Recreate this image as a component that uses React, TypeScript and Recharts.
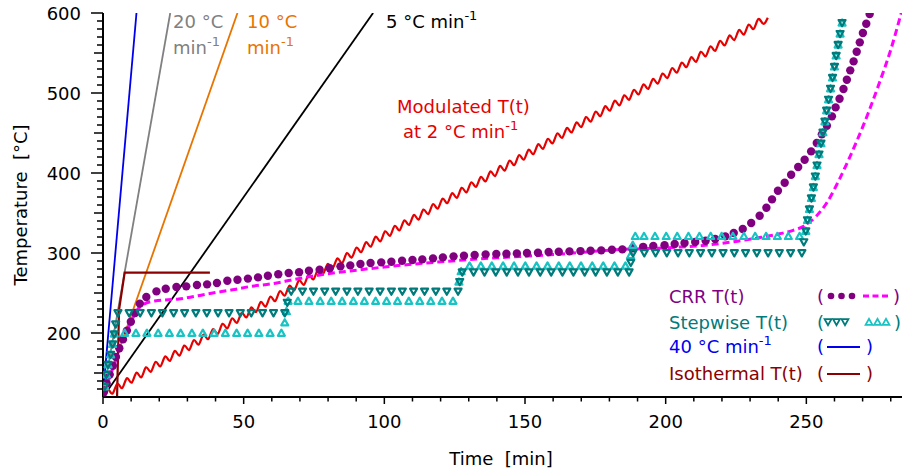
import React from "react";
import { ComposedChart, Line, Scatter, XAxis, YAxis } from "recharts";

type P = [number, number];

// heating ramps (t in min, T in °C)
const RAMP_40: P[] = [[0, 124], [11.9, 600]];
const RAMP_20: P[] = [[0, 122], [23.9, 600]];
const RAMP_10: P[] = [[0, 122], [47.8, 600]];
const RAMP_5: P[] = [[0, 120], [96, 600]];
const ISOTHERMAL: P[] = [[5.0, 120], [5.7, 229], [7.7, 275.5], [38, 275.5]];

// modulated T(t), peaks and troughs
const MODULATED: P[] = [
  [0, 117.5], [1.7, 129.9], [3.4, 124.3], [5.1, 136.7], [6.8, 131.1], [8.5, 143.5], [10.2, 137.9], [11.9, 150.3],
  [13.6, 144.7], [15.3, 157.1], [17, 151.5], [18.7, 163.9], [20.4, 158.3], [22.1, 170.7], [23.8, 165.1], [25.5, 177.5],
  [27.2, 171.9], [28.9, 184.3], [30.6, 178.7], [32.3, 191.1], [34, 185.5], [35.7, 197.9], [37.4, 192.3], [39.1, 204.7],
  [40.8, 199.1], [42.5, 211.5], [44.2, 205.9], [45.9, 218.3], [47.6, 212.7], [49.3, 225.1], [51, 219.5], [52.7, 231.9],
  [54.4, 226.3], [56.1, 238.7], [57.8, 233.1], [59.5, 245.5], [61.2, 239.9], [62.9, 252.3], [64.6, 246.7], [66.3, 259.1],
  [68, 253.5], [69.7, 265.9], [71.4, 260.3], [73.1, 272.7], [74.8, 267.1], [76.5, 279.5], [78.2, 273.9], [79.9, 286.3],
  [81.6, 280.7], [83.3, 293.1], [85, 287.5], [86.7, 299.9], [88.4, 294.3], [90.1, 306.7], [91.8, 301.1], [93.5, 313.5],
  [95.2, 307.9], [96.9, 320.3], [98.6, 314.7], [100.3, 327.1], [102, 321.5], [103.7, 333.9], [105.4, 328.3], [107.1, 340.7],
  [108.8, 335.1], [110.5, 347.5], [112.2, 341.9], [113.9, 354.3], [115.6, 348.7], [117.3, 361.1], [119, 355.5], [120.7, 367.9],
  [122.4, 362.3], [124.1, 374.7], [125.8, 369.1], [127.5, 381.5], [129.2, 375.9], [130.9, 388.3], [132.6, 382.7], [134.3, 395.1],
  [136, 389.5], [137.7, 401.9], [139.4, 396.3], [141.1, 408.7], [142.8, 403.1], [144.5, 415.5], [146.2, 409.9], [147.9, 422.3],
  [149.6, 416.7], [151.3, 429.1], [153, 423.5], [154.7, 435.9], [156.4, 430.3], [158.1, 442.7], [159.8, 437.1], [161.5, 449.5],
  [163.2, 443.9], [164.9, 456.3], [166.6, 450.7], [168.3, 463.1], [170, 457.5], [171.7, 469.9], [173.4, 464.3], [175.1, 476.7],
  [176.8, 471.1], [178.5, 483.5], [180.2, 477.9], [181.9, 490.3], [183.6, 484.7], [185.3, 497.1], [187, 491.5], [188.7, 503.9],
  [190.4, 498.3], [192.1, 510.7], [193.8, 505.1], [195.5, 517.5], [197.2, 511.9], [198.9, 524.3], [200.6, 518.7], [202.3, 531.1],
  [204, 525.5], [205.7, 537.9], [207.4, 532.3], [209.1, 544.7], [210.8, 539.1], [212.5, 551.5], [214.2, 545.9], [215.9, 558.3],
  [217.6, 552.7], [219.3, 565.1], [221, 559.5], [222.7, 571.9], [224.4, 566.3], [226.1, 578.7], [227.8, 573.1], [229.5, 585.5],
  [231.2, 579.9], [232.9, 592.3], [234.6, 586.7], [236.3, 594],
];

// CRR T(t) measured points
const CRR_DOTS: P[] = [
  [0.3, 126], [1.3, 137], [2.4, 148], [3.5, 159], [4.6, 170], [5.8, 181], [7.1, 192], [8.5, 203], [9.9, 214], [11.4, 225],
  [13.1, 236.7], [15.4, 245], [19, 252], [22.3, 255.4], [26.1, 257.5], [29.6, 258.3], [33.4, 260], [37, 260.8], [40.5, 262.5],
  [44.2, 265.4], [47.8, 266.6], [51.5, 268], [55.1, 269.5], [58.6, 271.6], [62.3, 273.5], [66, 275], [69.7, 276], [73.2, 277.8],
  [77, 279], [80.6, 281], [84.4, 283.3], [87.9, 284.5], [91.5, 286.2], [95.1, 287.5], [98.9, 288.3], [102.5, 289.1],
  [106.3, 290.4], [110, 291.2], [113.5, 292], [117.3, 293.3], [120.8, 294.5], [124.6, 295.8], [128.3, 296.6], [132.1, 297.5],
  [136, 298.3], [139.8, 298.8], [143.4, 299], [147.1, 299.5], [150.7, 300], [154.6, 300.4], [158.4, 301.2], [162, 301.6],
  [165.8, 302], [169.7, 302.4], [173.3, 302.9], [177.1, 303.3], [180.9, 304], [184.6, 304.5], [188.3, 306], [192, 307.7],
  [195.6, 308.7], [199.6, 309.6], [203.2, 311.2], [206.7, 312.5], [210.5, 313.7], [214.2, 315.4], [217.6, 317.5],
  [221.2, 320.8], [224.2, 325], [227.4, 330], [230.4, 337.5], [233.4, 346.6], [235.8, 356.5], [237.8, 367], [239.9, 377.9],
  [242.3, 387.9], [244.6, 397.9], [247.1, 407.5], [249.4, 416.6], [251.7, 427], [253.7, 437.5], [255.5, 448.3], [257.3, 459],
  [259.1, 470.8], [260.4, 482], [261.8, 492.9], [263.2, 505], [264.4, 516.6], [265.6, 528.3], [266.8, 539.5], [267.9, 551.6],
  [269, 563.3], [270.1, 575], [271.3, 586.6], [272.5, 598.8],
];

// CRR T(t) model curve (dashed)
const CRR_CURVE: P[] = [
  [0.3, 124], [2, 141], [4, 161], [6, 180], [8, 198], [10, 214], [12, 228], [14.5, 236], [18.4, 240], [27, 242.5],
  [39, 250], [46, 254], [53, 258.5], [60, 261.5], [67.5, 266.5], [77, 272.5], [90, 278.5], [100, 282.5], [120, 289],
  [140, 294], [160, 298], [182, 304], [200, 306.5], [215, 310], [225, 314.5], [233, 319], [240.5, 324], [245, 328],
  [248.8, 333], [253.5, 346], [257.5, 364], [262, 394], [267.7, 438], [272, 475], [276, 513], [280, 554], [283.5, 597],
  [285, 616],
];

// stepwise T(t), lower markers
const STEP_DOWN: P[] = [
  [0.6, 133], [1.2, 148], [1.8, 160.5], [2.7, 173], [3.4, 186], [4.0, 198.5], [4.5, 211],
  [5.3, 225], [9.3, 225], [13.2, 225], [17.2, 225], [21.1, 225], [25.1, 225], [29, 225], [33, 225], [36.9, 225],
  [40.9, 225], [44.8, 225], [48.8, 225], [52.7, 225], [56.7, 225], [60.6, 225], [64.6, 225], [65.5, 238],
  [66.9, 252], [70.9, 252], [74.8, 252], [78.8, 252], [82.7, 252], [86.7, 252], [90.6, 252], [94.6, 252], [98.5, 252],
  [102.5, 252], [106.4, 252], [110.4, 252], [114.3, 252], [118.3, 252], [122.2, 252], [126.2, 252], [126.8, 264],
  [127.7, 276], [131.7, 276], [135.6, 276], [139.6, 276], [143.5, 276], [147.5, 276], [151.4, 276], [155.4, 276],
  [159.3, 276], [163.3, 276], [167.2, 276], [171.2, 276], [175.1, 276], [179.1, 276], [183, 276], [187, 276], [187.6, 288],
  [188.4, 300], [192.4, 300], [196.4, 300], [200.4, 300], [204.4, 300], [208.4, 300], [212.4, 300], [216.4, 300],
  [220.4, 300], [224.4, 300], [228.4, 300], [232.4, 300], [236.4, 300], [240.4, 300], [244.4, 300], [248.4, 300],
  [249.1, 313.7], [249.8, 327.4], [250.4, 341.1], [251.1, 354.8], [251.8, 368.5], [252.5, 382.2], [253.2, 395.9],
  [253.8, 409.6], [254.5, 423.3], [255.2, 437], [255.9, 450.7], [256.6, 464.4], [257.2, 478.1], [257.9, 491.8],
  [258.6, 505.5], [259.3, 519.2], [260, 532.9], [260.6, 546.6], [261.3, 560.3], [262, 574], [262.7, 587.7],
];

// stepwise T(t), upper markers
const STEP_UP: P[] = [
  [0.6, 133], [1.2, 148], [1.8, 160.5], [2.7, 173], [3.4, 186], [4.0, 199],
  [7.7, 200], [11.7, 200], [15.6, 200], [19.6, 200], [23.6, 200], [27.6, 200], [31.6, 200], [35.5, 200], [39.5, 200],
  [43.5, 200], [47.5, 200], [51.4, 200], [55.4, 200], [59.4, 200], [63.4, 200], [64.6, 213], [65.2, 227], [65.8, 240],
  [69.3, 240], [73.2, 240], [77.2, 240], [81.1, 240], [85, 240], [89, 240], [92.9, 240], [96.9, 240], [100.8, 240],
  [104.7, 240], [108.7, 240], [112.6, 240], [116.5, 240], [120.5, 240], [124.4, 240], [126.5, 264], [127.3, 277],
  [130.3, 284], [134.3, 284], [138.2, 284], [142.2, 284], [146.1, 284], [150.1, 284], [154.1, 284], [158, 284],
  [162, 284], [165.9, 284], [169.9, 284], [173.9, 284], [177.8, 284], [181.8, 284], [185.7, 284], [187.5, 297],
  [188.3, 310], [189.2, 321], [192.3, 321], [196.2, 321], [200.2, 321], [204.1, 321], [208.1, 321], [212, 321],
  [216, 321], [219.9, 321], [223.9, 321], [227.8, 321], [231.8, 321], [235.7, 321], [239.7, 321], [243.6, 321],
  [247.6, 321], [249.8, 327.4], [250.4, 341.1], [251.1, 354.8], [251.8, 368.5], [252.5, 382.2], [253.2, 395.9],
  [253.8, 409.6], [254.5, 423.3], [255.2, 437], [255.9, 450.7], [256.6, 464.4], [257.2, 478.1], [257.9, 491.8],
  [258.6, 505.5], [259.3, 519.2], [260, 532.9], [260.6, 546.6], [261.3, 560.3], [262, 574], [262.7, 587.7],
];

const X_TICKS = [0, 10, 20, 30, 40, 50, 60, 70, 80, 90, 100, 110, 120, 130, 140, 150, 160, 170, 180, 190, 200, 210, 220, 230, 240, 250, 260, 270, 280];
const Y_TICKS = [
  130, 140, 150, 160, 170, 180, 190, 200, 210, 220, 230, 240, 250, 260, 270, 280, 290, 300, 310, 320, 330, 340, 350, 360,
  370, 380, 390, 400, 410, 420, 430, 440, 450, 460, 470, 480, 490, 500, 510, 520, 530, 540, 550, 560, 570, 580, 590, 600,
];

const FONT = "'DejaVu Sans', Verdana, sans-serif";
const C = {
  blue: "#0000ee",
  gray: "#808080",
  orange: "#e87400",
  black: "#000000",
  red: "#e60000",
  purple: "#800080",
  magenta: "#ff00ff",
  teal: "#007a7a",
  cyan: "#19c3c3",
  darkred: "#8b0000",
};

const pts = (a: P[]) => a.map(([t, T]) => ({ t, T }));

function XTick(props: any) {
  const { x, y, payload } = props;
  const major = payload.value % 50 === 0;
  return (
    <g>
      <line x1={x} x2={x} y1={y} y2={y + (major ? 7 : 4.5)} stroke="#000" strokeWidth={1.5} />
      {major && (
        <text x={x} y={y + 31} textAnchor="middle" fontSize={18} fontFamily={FONT} fill="#000">
          {payload.value}
        </text>
      )}
    </g>
  );
}

function YTick(props: any) {
  const { x, y, payload } = props;
  const v = payload.value;
  const len = v % 100 === 0 ? 12 : v % 50 === 0 ? 9 : 6;
  return (
    <g>
      <line x1={x} x2={x - len} y1={y} y2={y} stroke="#000" strokeWidth={1.5} />
      {v % 100 === 0 && (
        <text x={x - 22} y={y} dy={6.5} textAnchor="end" fontSize={18} fontFamily={FONT} fill="#000">
          {v}
        </text>
      )}
    </g>
  );
}

const CrrDot = (p: any) => <circle cx={p.cx} cy={p.cy} r={4.2} fill={C.purple} />;

const DownTri = (p: any) => {
  const { cx, cy } = p;
  return (
    <path
      d={`M${cx - 3.5},${cy - 2.8}L${cx + 3.5},${cy - 2.8}L${cx},${cy + 3.4}Z`}
      fill="none"
      stroke={C.teal}
      strokeWidth={2.2}
      strokeLinejoin="round"
    />
  );
};

const UpTri = (p: any) => {
  const { cx, cy } = p;
  return (
    <path
      d={`M${cx - 3.5},${cy + 2.8}L${cx + 3.5},${cy + 2.8}L${cx},${cy - 3.4}Z`}
      fill="none"
      stroke={C.cyan}
      strokeWidth={2.2}
      strokeLinejoin="round"
    />
  );
};

function Sup({ children }: { children: string }) {
  return (
    <tspan dy={-8.5} fontSize={13}>
      {children}
    </tspan>
  );
}

function Overlay() {
  const tri = (cx: number, cy: number, up: boolean, col: string) => (
    <path
      d={
        up
          ? `M${cx - 3.4},${cy + 2.8}L${cx + 3.4},${cy + 2.8}L${cx},${cy - 3.2}Z`
          : `M${cx - 3.4},${cy - 2.8}L${cx + 3.4},${cy - 2.8}L${cx},${cy + 3.2}Z`
      }
      fill="none"
      stroke={col}
      strokeWidth={1.8}
    />
  );
  return (
    <svg
      width={902}
      height={476}
      style={{ position: "absolute", left: 0, top: 0, pointerEvents: "none" }}
      fontFamily={FONT}
      fontSize={18}
    >
      {/* axis titles */}
      <text x={27} y={205} transform="rotate(-90 27 205)" textAnchor="middle" style={{ whiteSpace: "pre" }}>
        {"Temperature  [°C]"}
      </text>
      <text x={501} y={465} textAnchor="middle" style={{ whiteSpace: "pre" }}>
        {"Time  [min]"}
      </text>

      {/* ramp annotations */}
      <text x={173} y={28} fill={C.gray}>20 °C</text>
      <text x={173} y={54} fill={C.gray}>min<Sup>-1</Sup></text>
      <text x={247} y={28} fill={C.orange}>10 °C</text>
      <text x={247} y={54} fill={C.orange}>min<Sup>-1</Sup></text>
      <text x={386} y={28} fill={C.black}>5 °C min<Sup>-1</Sup></text>
      <text x={397} y={113} fill={C.red}>Modulated T(t)</text>
      <text x={403} y={138} fill={C.red}>at 2 °C min<Sup>-1</Sup></text>

      {/* legend */}
      <text x={669} y={303} fill={C.purple}>CRR T(t)</text>
      <text x={817} y={303} fill={C.purple}>(</text>
      <circle cx={831} cy={296} r={3.3} fill={C.purple} />
      <circle cx={841.5} cy={296} r={3.3} fill={C.purple} />
      <circle cx={852} cy={296} r={3.3} fill={C.purple} />
      <line x1={863} x2={888} y1={296} y2={296} stroke={C.magenta} strokeWidth={3} strokeDasharray="6 3.5" />
      <text x={893} y={303} fill={C.purple}>)</text>

      <text x={669} y={329} fill={C.teal}>Stepwise T(t)</text>
      <text x={817} y={329} fill={C.teal}>(</text>
      {tri(828, 322, false, C.teal)}
      {tri(836.5, 322, false, C.teal)}
      {tri(845, 322, false, C.teal)}
      {tri(869, 322, true, C.cyan)}
      {tri(877.5, 322, true, C.cyan)}
      {tri(886, 322, true, C.cyan)}
      <text x={894} y={329} fill={C.teal}>)</text>

      <text x={669} y={353} fill={C.blue}>40 °C min<Sup>-1</Sup></text>
      <text x={817} y={353} fill={C.blue}>(</text>
      <line x1={827} x2={860} y1={347} y2={347} stroke={C.blue} strokeWidth={2} />
      <text x={866} y={353} fill={C.blue}>)</text>

      <text x={669} y={380} fill={C.darkred}>Isothermal T(t)</text>
      <text x={817} y={380} fill={C.darkred}>(</text>
      <line x1={827} x2={860} y1={374} y2={374} stroke={C.darkred} strokeWidth={2} />
      <text x={866} y={380} fill={C.darkred}>)</text>
    </svg>
  );
}

export default function App() {
  return (
    <div style={{ position: "absolute", left: 0, top: 0, width: 902, height: 476, background: "#fff", fontFamily: FONT }}>
      <ComposedChart width={902} height={476} margin={{ top: 13, right: 0, bottom: 0, left: 3 }}>
        <XAxis
          type="number"
          dataKey="t"
          domain={[0, 284]}
          allowDataOverflow
          ticks={X_TICKS}
          interval={0}
          tick={<XTick />}
          tickLine={false}
          tickSize={0}
          tickMargin={0}
          height={79}
          axisLine={{ stroke: "#000", strokeWidth: 2 }}
        />
        <YAxis
          type="number"
          dataKey="T"
          domain={[120, 600]}
          allowDataOverflow
          ticks={Y_TICKS}
          interval={0}
          tick={<YTick />}
          tickLine={false}
          tickSize={0}
          tickMargin={0}
          width={100}
          axisLine={{ stroke: "#000", strokeWidth: 2 }}
        />

        <Line data={pts(RAMP_40)} dataKey="T" type="linear" stroke={C.blue} strokeWidth={1.8} dot={false} isAnimationActive={false} />
        <Line data={pts(RAMP_20)} dataKey="T" type="linear" stroke={C.gray} strokeWidth={1.8} dot={false} isAnimationActive={false} />
        <Line data={pts(RAMP_10)} dataKey="T" type="linear" stroke={C.orange} strokeWidth={1.8} dot={false} isAnimationActive={false} />
        <Line data={pts(RAMP_5)} dataKey="T" type="linear" stroke={C.black} strokeWidth={1.8} dot={false} isAnimationActive={false} />
        <Line data={pts(ISOTHERMAL)} dataKey="T" type="linear" stroke={C.darkred} strokeWidth={2.2} dot={false} isAnimationActive={false} />
        <Line data={pts(MODULATED)} dataKey="T" type="natural" stroke={C.red} strokeWidth={2.2} dot={false} isAnimationActive={false} />
        <Line
          data={pts(CRR_CURVE)}
          dataKey="T"
          type="monotone"
          stroke={C.magenta}
          strokeWidth={3}
          strokeDasharray="7 4"
          dot={false}
          isAnimationActive={false}
        />
        <Scatter data={pts(CRR_DOTS)} shape={CrrDot} isAnimationActive={false} />
        <Scatter data={pts(STEP_UP)} shape={UpTri} isAnimationActive={false} />
        <Scatter data={pts(STEP_DOWN)} shape={DownTri} isAnimationActive={false} />
      </ComposedChart>
      <Overlay />
    </div>
  );
}
